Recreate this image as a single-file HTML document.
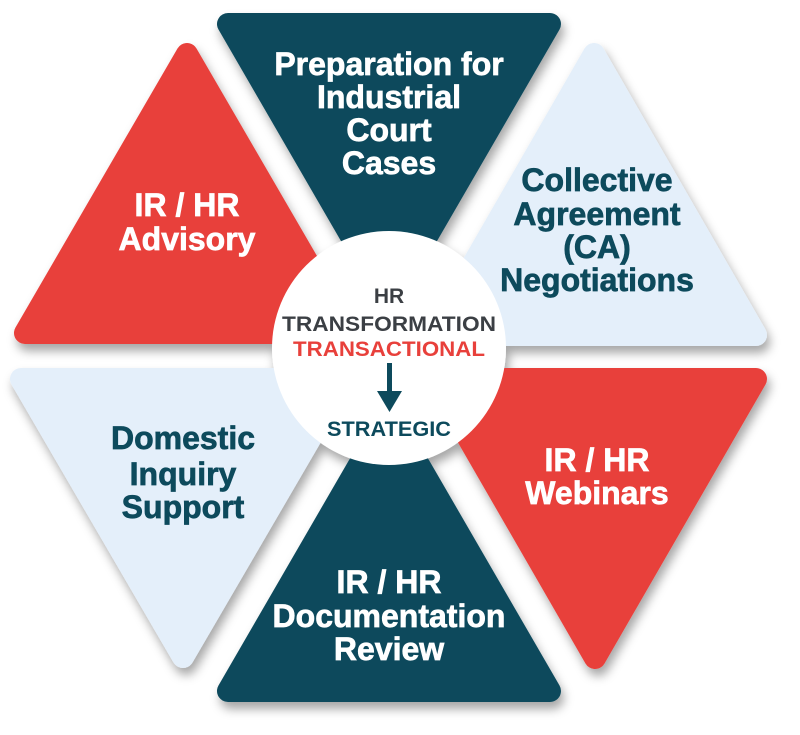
<!DOCTYPE html>
<html><head><meta charset="utf-8"><style>
html,body{margin:0;padding:0;background:#fff;}
svg{display:block;}
text{font-family:"Liberation Sans",Arial,sans-serif;font-weight:bold;text-anchor:middle;}
</style></head><body>
<svg width="800" height="735" viewBox="0 0 800 735" xmlns="http://www.w3.org/2000/svg">
<defs>
<filter id="sh" x="-20%" y="-20%" width="140%" height="140%">
<feDropShadow dx="3" dy="7" stdDeviation="5" flood-color="#000" flood-opacity="0.35"/>
</filter>
</defs>
<g filter="url(#sh)" stroke-linejoin="round" stroke-width="22">
<polygon points="228,24 550,24 389,302" fill="#0d4a5c" stroke="#0d4a5c"/>
<polygon points="187,54 25,333 349,333" fill="#e8403b" stroke="#e8403b"/>
<polygon points="594,54 432,335 756,335" fill="#e4effa" stroke="#e4effa"/>
<polygon points="21,379 345,379 183,657" fill="#e4effa" stroke="#e4effa"/>
<polygon points="434,379 756,379 595,658" fill="#e8403b" stroke="#e8403b"/>
<polygon points="389,413 228,691 550,691" fill="#0d4a5c" stroke="#0d4a5c"/>
<circle cx="389" cy="348" r="117" fill="#fff" stroke="none"/>
</g>
<g font-size="32" fill="#fff" stroke="#fff" stroke-width="0.7">
<text x="389" y="75">Preparation for</text>
<text x="389" y="108">Industrial</text>
<text x="389" y="141">Court</text>
<text x="389" y="174">Cases</text>
<text x="187" y="216">IR / HR</text>
<text x="187" y="250">Advisory</text>
<text x="597" y="471">IR / HR</text>
<text x="597" y="504">Webinars</text>
<text x="389" y="593">IR / HR</text>
<text x="389" y="627">Documentation</text>
<text x="389" y="660">Review</text>
</g>
<g font-size="32" fill="#0d4a5c" stroke="#0d4a5c" stroke-width="0.7">
<text x="597" y="191">Collective</text>
<text x="597" y="225">Agreement</text>
<text x="597" y="258">(CA)</text>
<text x="597" y="291">Negotiations</text>
<text x="183" y="449">Domestic</text>
<text x="183" y="485">Inquiry</text>
<text x="183" y="518">Support</text>
</g>
<g font-size="21">
<text x="389" y="303" fill="#3b3f44">HR</text>
<text x="389" y="331" fill="#3b3f44" textLength="214" lengthAdjust="spacingAndGlyphs">TRANSFORMATION</text>
<text x="389" y="356" fill="#e8403b" textLength="192" lengthAdjust="spacingAndGlyphs">TRANSACTIONAL</text>
<text x="389" y="436" fill="#0d4a5c" textLength="124" lengthAdjust="spacingAndGlyphs">STRATEGIC</text>
</g>
<rect x="387" y="363" width="5" height="30" fill="#0d4a5c"/>
<polygon points="377,391 402,391 389.5,412" fill="#0d4a5c"/>
</svg>
</body></html>
